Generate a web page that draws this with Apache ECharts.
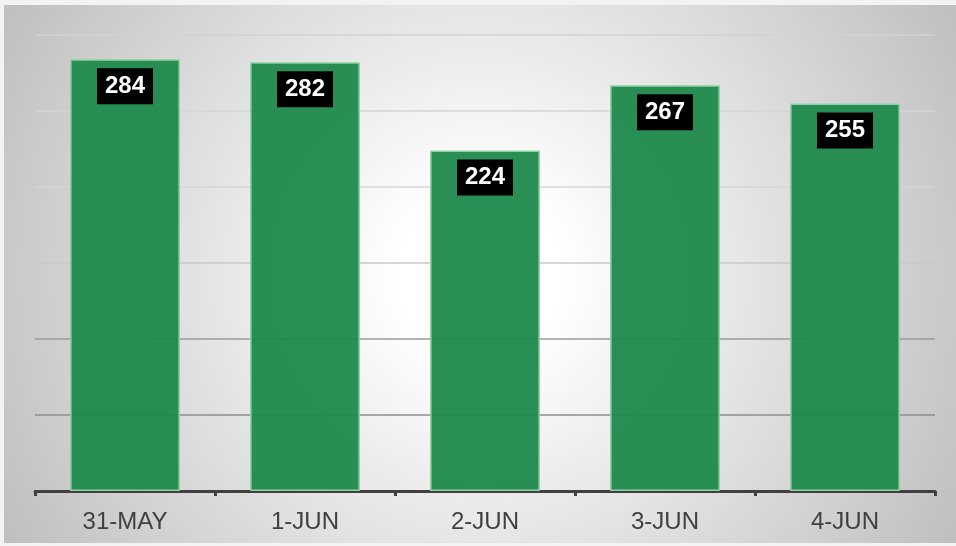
<!DOCTYPE html>
<html>
<head>
<meta charset="utf-8">
<script src="https://cdn.jsdelivr.net/npm/echarts@6/dist/echarts.min.js"></script>
<style>
html,body{margin:0;padding:0;background:#f3f3f3;width:956px;height:546px;overflow:hidden;}
#chart{position:absolute;left:4px;top:5px;width:952px;height:538px;}
</style>
</head>
<body>
<div id="chart"></div>
<script>
const categories = ['31-MAY', '1-JUN', '2-JUN', '3-JUN', '4-JUN'];
const values = [284, 282, 224, 267, 255];
const yMin = 0, yMax = 300, yInterval = 50;

const chart = echarts.init(document.getElementById('chart'), null, {renderer: 'canvas'});
chart.setOption({
  animation: false,
  backgroundColor: {
    type: 'radial', x: 0.5, y: 0.5, r: 1.0,
    colorStops: [
      {offset: 0, color: '#ffffff'},
      {offset: 0.15, color: '#ffffff'},
      {offset: 1, color: '#c0c0c0'}
    ]
  },
  grid: {left: 31, right: 21, top: 30, bottom: 52, containLabel: false},
  xAxis: {
    type: 'category',
    data: categories,
    axisLine: {show: true, lineStyle: {color: '#404040', width: 3}},
    axisTick: {show: true, length: 5, lineStyle: {color: '#404040', width: 3}},
    axisLabel: {color: '#404040', fontSize: 24, margin: 19, fontFamily: 'Liberation Sans, Arial, sans-serif'}
  },
  yAxis: {
    type: 'value',
    min: yMin, max: yMax, interval: yInterval,
    axisLabel: {show: false},
    axisLine: {show: false},
    axisTick: {show: false},
    splitLine: {show: true, lineStyle: {width: 1.5, color: ['#8c8c8c', '#8c8c8c', '#9a9a9a', '#c8c8c8', '#d6d6d6', '#d4d4d4', '#d2d2d2']}}
  },
  series: [{
    type: 'bar',
    data: values,
    barWidth: '61%',
    itemStyle: {color: 'rgba(30,137,76,0.95)', borderColor: '#8fd1a6', borderWidth: 1.5},
    label: {
      show: true,
      position: 'insideTop',
      distance: 9,
      backgroundColor: '#000',
      color: '#fff',
      fontWeight: 'bold',
      fontSize: 24,
      lineHeight: 26,
      padding: [5, 8, 5, 8],
      fontFamily: 'Liberation Sans, Arial, sans-serif'
    }
  }]
});
</script>
</body>
</html>
